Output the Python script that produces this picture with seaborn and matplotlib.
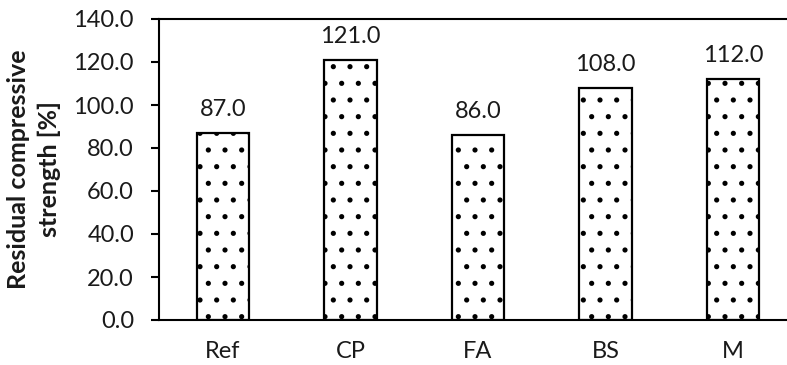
import matplotlib
matplotlib.use("Agg")
import matplotlib.pyplot as plt
import seaborn as sns
import pandas as pd
import numpy as np

categories = ["Ref", "CP", "FA", "BS", "M"]
strength = [87.0, 121.0, 86.0, 108.0, 112.0]
yticks = [0, 20, 40, 60, 80, 100, 120, 140]

sns.set_theme(style="white")
plt.rcParams["font.family"] = ["Lato", "DejaVu Sans"]
plt.rcParams["hatch.linewidth"] = 1.3
plt.rcParams["hatch.color"] = "#3a3a3a"

df = pd.DataFrame({"mix": categories, "strength": strength})

fig = plt.figure(figsize=(7.87, 3.65), dpi=100)
ax = fig.add_axes([159 / 787, 45 / 365, 638 / 787, 301 / 365])

sns.barplot(data=df, x="mix", y="strength", color="white", edgecolor="black",
            linewidth=1.6, width=0.41, saturation=1, ax=ax)
for p in ax.patches:
    p.set_hatch(".")
    p.set_facecolor("white")

fs = 17
txt = "#1a1a1a"
for i, v in enumerate(strength):
    ax.text(i, v + 6, f"{v:.1f}", ha="center", va="bottom", fontsize=fs, color=txt)

ax.set_xlim(-0.5, 4.5)
ax.set_ylim(0, 140)
ax.set_yticks(yticks)
ax.set_yticklabels([f"{t:.1f}" for t in yticks], fontsize=fs, color=txt)
ax.set_xticks(range(len(categories)))
ax.set_xticklabels(categories, fontsize=fs, color=txt)
ax.set_xticks(np.arange(-0.5, 5, 1), minor=True)
ax.tick_params(axis="x", which="major", length=0, pad=15)
ax.tick_params(axis="x", which="minor", length=6, width=1.5, color="black", direction="out")
ax.tick_params(axis="y", which="major", length=6, width=1.5, color="black", direction="out", pad=12, left=True)
ax.set_xlabel("")
ax.set_ylabel("Residual compressive\nstrength [%]", fontsize=18, fontweight="bold",
              color=txt, labelpad=9, linespacing=1.4)

for side in ["left", "bottom", "top"]:
    ax.spines[side].set_visible(True)
    ax.spines[side].set_color("black")
    ax.spines[side].set_linewidth(1.5)
ax.spines["right"].set_visible(False)

fig.savefig("out.png", dpi=100)
